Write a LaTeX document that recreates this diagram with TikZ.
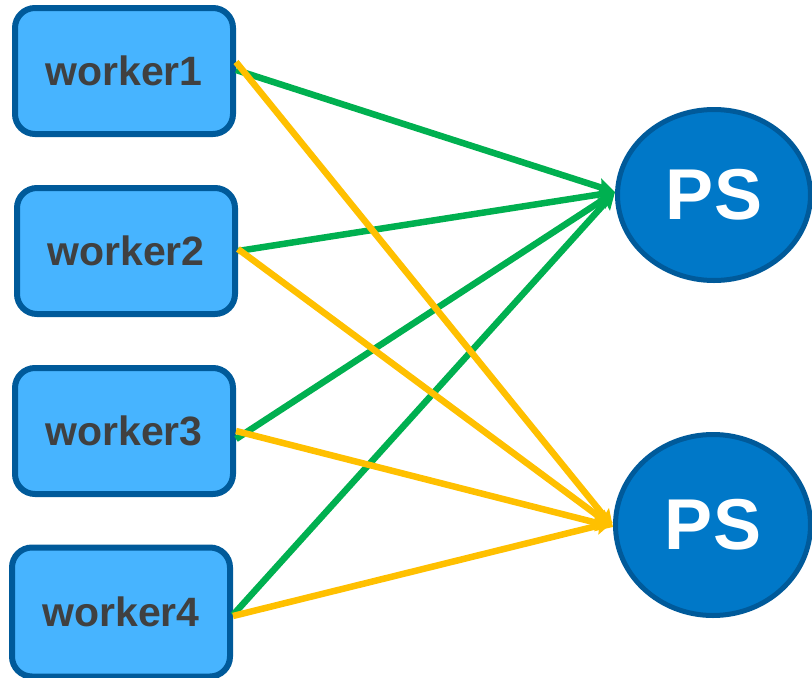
\documentclass[tikz,border=0pt]{standalone}
\usepackage{fontspec}
\setmainfont{Liberation Sans}
\usetikzlibrary{shapes.geometric,arrows.meta}
\definecolor{boxfill}{HTML}{47B4FF}
\definecolor{boxline}{HTML}{005A9A}
\definecolor{psfill}{HTML}{0078C8}
\definecolor{labeltext}{HTML}{404040}
\definecolor{linkgreen}{HTML}{00B050}
\definecolor{linkyellow}{HTML}{FFC000}
\begin{document}
\begin{tikzpicture}[x=1pt,y=-1pt,
  worker/.style={draw=boxline, fill=boxfill, line width=6pt, rounded corners=20pt,
    minimum width=218pt, minimum height=126pt, inner sep=0pt,
    font=\fontsize{41}{45}\selectfont\bfseries, text=labeltext},
  server/.style={ellipse, draw=boxline, fill=psfill, line width=5pt, inner sep=0pt,
    font=\fontsize{72}{76}\selectfont\bfseries, text=white},
  link/.style={line width=6.5pt, -{Stealth[length=17pt,width=17pt,inset=3pt]}},
  green link/.style={link, draw=linkgreen},
  yellow link/.style={link, draw=linkyellow}]
  \useasboundingbox (0,0) rectangle (812,678);

  \node[worker] (w1) at (124,71)  {worker1};
  \node[worker] (w2) at (126,251) {worker2};
  \node[worker] (w3) at (124,431) {worker3};
  \node[worker, minimum height=129pt] (w4) at (121,612) {worker4};

  \node[server, minimum width=193pt, minimum height=171pt] (ps1) at (714,195) {PS};
  \node[server, minimum width=195pt, minimum height=181pt] (ps2) at (713,525) {PS};

  \coordinate (in1) at ([yshift=3pt]ps1.west);
  \coordinate (in2) at ([yshift=-2pt]ps2.west);

  % links to the first server
  \draw[green link] ([yshift=1pt]w1.east) -- (in1);
  \draw[green link] (w2.east) -- (in1);
  \draw[green link] ([yshift=-8pt]w3.east) -- (in1);
  \draw[green link] ([yshift=-3pt]w4.east) -- (in1);

  % links to the second server
  \draw[yellow link] ([yshift=9pt]w1.east) -- (in2);
  \draw[yellow link] ([yshift=2pt]w2.east) -- (in2);
  \draw[yellow link] (w3.east) -- (in2);
  \draw[yellow link] ([yshift=-4pt]w4.east) -- ([yshift=5pt]in2);
\end{tikzpicture}
\end{document}
